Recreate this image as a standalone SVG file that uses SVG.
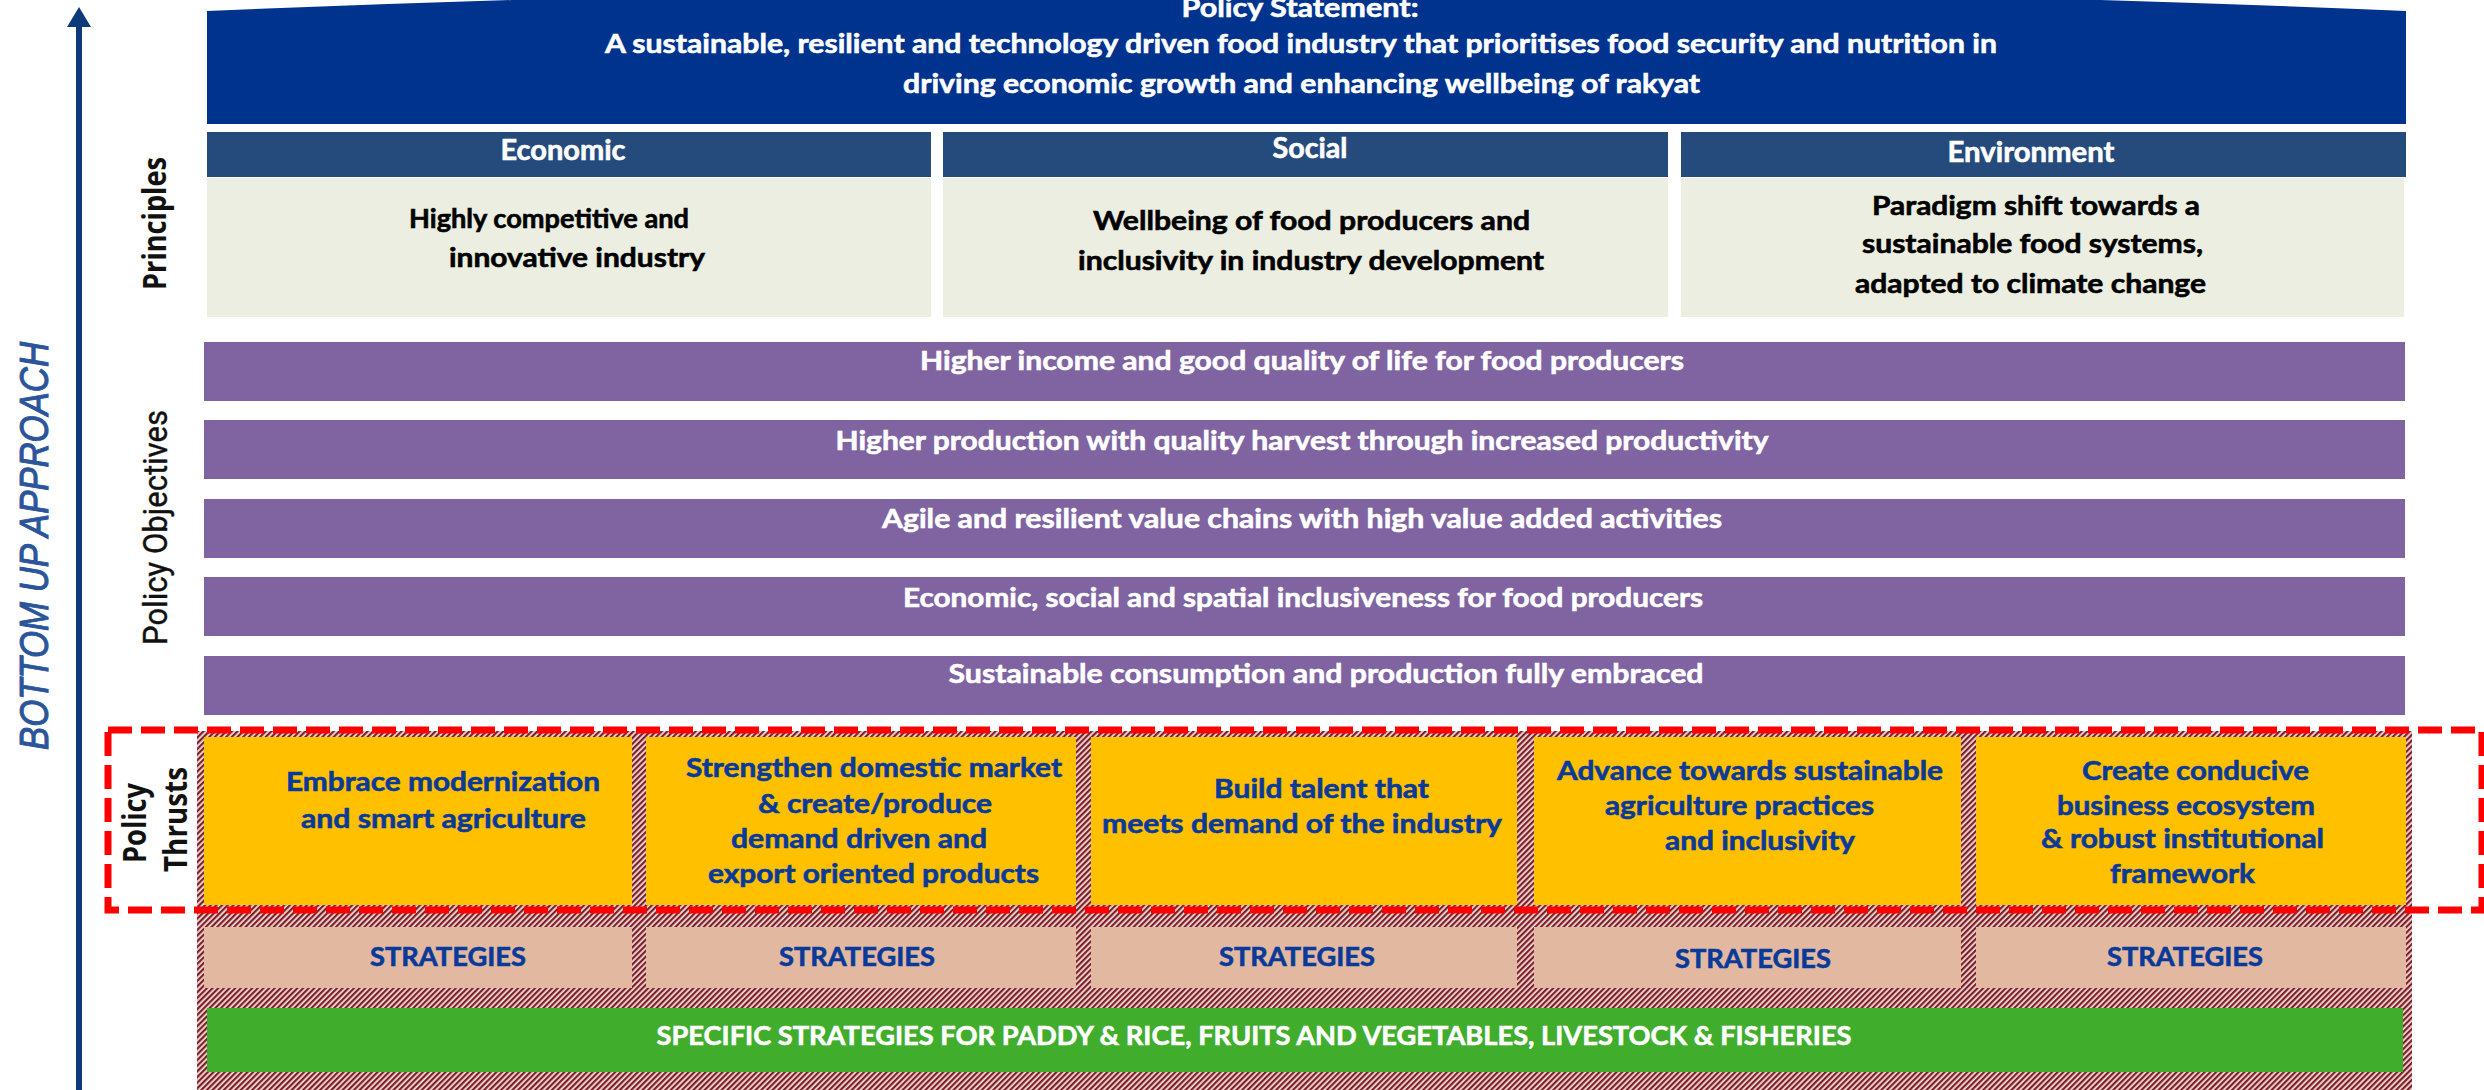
<svg xmlns="http://www.w3.org/2000/svg" width="2484" height="1090" viewBox="0 0 2484 1090">
<defs>
<style>
.t{font-family:Lato,"Liberation Sans",sans-serif;font-weight:700;text-anchor:middle;stroke-width:0.6px;paint-order:stroke}
.s27{font-size:27px}
.s28{font-size:28px}
.s26{font-size:26px}
.w{fill:#ffffff;stroke:#ffffff}
.k{fill:#000000;stroke:#000000}
.b{fill:#0A3A99;stroke:#0A3A99}
.side{font-family:"Open Sans","Liberation Sans",sans-serif;font-weight:700;font-size:32px;fill:#111;text-anchor:middle}
.side2{font-family:Roboto,"Liberation Sans",sans-serif;font-weight:400;font-size:33px;fill:#111;stroke:#111;stroke-width:0.4px;text-anchor:middle}
.hdr{fill:#254A7C}
.body{fill:#EBEEE0}
.obj{fill:#8064A2}
.thr{fill:#FFC000}
.str{fill:#E2B8A0}
</style>
<pattern id="hatch" width="4" height="4" patternUnits="userSpaceOnUse" patternTransform="rotate(45)">
<rect width="4" height="4" fill="#F1DCD6"/>
<rect width="2.2" height="4" fill="#7E1F2A"/>
</pattern>
</defs>
<rect width="2484" height="1090" fill="#ffffff"/>

<g id="connectors">
<line x1="79" y1="24" x2="79" y2="1090" stroke="#0D3B7A" stroke-width="6"/>
<polygon points="79,7 67,27 91,27" fill="#0D3B7A"/>
</g>

<g id="label-bottom-up">
<text transform="translate(48,546) rotate(-90)" font-family="'Liberation Sans',Arial,sans-serif" font-style="italic" font-size="41" fill="#2A559A" stroke="#2A559A" stroke-width="1" text-anchor="middle" textLength="408" lengthAdjust="spacingAndGlyphs">BOTTOM UP APPROACH</text>
</g>

<g id="policy-statement">
<path d="M207,11 Q1306,-35 2406,11 L2406,124 L207,124 Z" fill="#00338D"/>
<text class="t s27 w" x="1300" y="17" textLength="237" lengthAdjust="spacingAndGlyphs">Policy Statement:</text>
<text class="t s27 w" x="1301" y="53" textLength="1392" lengthAdjust="spacingAndGlyphs">A sustainable, resilient and technology driven food industry that prioritises food security and nutrition in</text>
<text class="t s27 w" x="1301.5" y="93" textLength="797" lengthAdjust="spacingAndGlyphs">driving economic growth and enhancing wellbeing of rakyat</text>
</g>

<g id="label-principles">
<text class="side" transform="translate(166,223.5) rotate(-90)" textLength="133" lengthAdjust="spacingAndGlyphs">Principles</text>
</g>

<g id="principle-economic">
<rect class="hdr" x="207" y="132" width="724" height="45"/>
<rect class="body" x="207" y="178" width="724" height="139"/>
<text class="t s28 w" x="563" y="160" textLength="125" lengthAdjust="spacingAndGlyphs">Economic</text>
<text class="t s27 k" x="549" y="228" textLength="280" lengthAdjust="spacingAndGlyphs">Highly competitive and</text>
<text class="t s27 k" x="577" y="267" textLength="256" lengthAdjust="spacingAndGlyphs">innovative industry</text>
</g>

<g id="principle-social">
<rect class="hdr" x="943" y="132" width="725" height="45"/>
<rect class="body" x="943" y="178" width="725" height="139"/>
<text class="t s28 w" x="1310" y="158" textLength="75" lengthAdjust="spacingAndGlyphs">Social</text>
<text class="t s27 k" x="1311.5" y="230" textLength="437" lengthAdjust="spacingAndGlyphs">Wellbeing of food producers and</text>
<text class="t s27 k" x="1311" y="270" textLength="466" lengthAdjust="spacingAndGlyphs">inclusivity in industry development</text>
</g>

<g id="principle-environment">
<rect class="hdr" x="1681" y="132" width="725" height="45"/>
<rect class="body" x="1681" y="178" width="723" height="139"/>
<text class="t s28 w" x="2031" y="162" textLength="167" lengthAdjust="spacingAndGlyphs">Environment</text>
<text class="t s27 k" x="2036" y="215" textLength="328" lengthAdjust="spacingAndGlyphs">Paradigm shift towards a</text>
<text class="t s27 k" x="2032.5" y="253" textLength="341" lengthAdjust="spacingAndGlyphs">sustainable food systems,</text>
<text class="t s27 k" x="2030.5" y="293" textLength="351" lengthAdjust="spacingAndGlyphs">adapted to climate change</text>
</g>

<g id="label-objectives">
<text class="side2" transform="translate(167,527.5) rotate(-90)" textLength="235" lengthAdjust="spacingAndGlyphs">Policy Objectives</text>
</g>

<g id="objective-1">
<rect class="obj" x="204" y="342" width="2201" height="59"/>
<text class="t s27 w" x="1302" y="370" textLength="764" lengthAdjust="spacingAndGlyphs">Higher income and good quality of life for food producers</text>
</g>
<g id="objective-2">
<rect class="obj" x="204" y="420" width="2201" height="59"/>
<text class="t s27 w" x="1302" y="450" textLength="933" lengthAdjust="spacingAndGlyphs">Higher production with quality harvest through increased productivity</text>
</g>
<g id="objective-3">
<rect class="obj" x="204" y="499" width="2201" height="59"/>
<text class="t s27 w" x="1302" y="528" textLength="840" lengthAdjust="spacingAndGlyphs">Agile and resilient value chains with high value added activities</text>
</g>
<g id="objective-4">
<rect class="obj" x="204" y="577" width="2201" height="59"/>
<text class="t s27 w" x="1303" y="607" textLength="800" lengthAdjust="spacingAndGlyphs">Economic, social and spatial inclusiveness for food producers</text>
</g>
<g id="objective-5">
<rect class="obj" x="204" y="656" width="2201" height="59"/>
<text class="t s27 w" x="1326" y="683" textLength="755" lengthAdjust="spacingAndGlyphs">Sustainable consumption and production fully embraced</text>
</g>

<g id="hatch-bg">
<rect x="197" y="731" width="2215" height="359" fill="url(#hatch)"/>
</g>

<g id="label-thrusts">
<text class="side" transform="translate(146,823) rotate(-90)" textLength="80" lengthAdjust="spacingAndGlyphs">Policy</text>
<text class="side" transform="translate(187,819.5) rotate(-90)" textLength="105" lengthAdjust="spacingAndGlyphs">Thrusts</text>
</g>

<g id="thrust-1">
<rect class="thr" x="204" y="737" width="428" height="168"/>
<text class="t s27 b" x="443" y="791" textLength="314" lengthAdjust="spacingAndGlyphs">Embrace modernization</text>
<text class="t s27 b" x="443.5" y="828" textLength="285" lengthAdjust="spacingAndGlyphs">and smart agriculture</text>
</g>
<g id="thrust-2">
<rect class="thr" x="646" y="737" width="430" height="168"/>
<text class="t s27 b" x="874" y="777" textLength="376" lengthAdjust="spacingAndGlyphs">Strengthen domestic market</text>
<text class="t s27 b" x="875" y="813" textLength="234" lengthAdjust="spacingAndGlyphs">&amp; create/produce</text>
<text class="t s27 b" x="859" y="848" textLength="256" lengthAdjust="spacingAndGlyphs">demand driven and</text>
<text class="t s27 b" x="873.5" y="883" textLength="331" lengthAdjust="spacingAndGlyphs">export oriented products</text>
</g>
<g id="thrust-3">
<rect class="thr" x="1091" y="737" width="426" height="168"/>
<text class="t s27 b" x="1321.5" y="798" textLength="215" lengthAdjust="spacingAndGlyphs">Build talent that</text>
<text class="t s27 b" x="1302" y="833" textLength="400" lengthAdjust="spacingAndGlyphs">meets demand of the industry</text>
</g>
<g id="thrust-4">
<rect class="thr" x="1534" y="737" width="427" height="168"/>
<text class="t s27 b" x="1750" y="780" textLength="386" lengthAdjust="spacingAndGlyphs">Advance towards sustainable</text>
<text class="t s27 b" x="1739.5" y="815" textLength="269" lengthAdjust="spacingAndGlyphs">agriculture practices</text>
<text class="t s27 b" x="1760" y="850" textLength="190" lengthAdjust="spacingAndGlyphs">and inclusivity</text>
</g>
<g id="thrust-5">
<rect class="thr" x="1976" y="737" width="430" height="168"/>
<text class="t s27 b" x="2195.5" y="780" textLength="227" lengthAdjust="spacingAndGlyphs">Create conducive</text>
<text class="t s27 b" x="2186" y="815" textLength="258" lengthAdjust="spacingAndGlyphs">business ecosystem</text>
<text class="t s27 b" x="2182.5" y="848" textLength="283" lengthAdjust="spacingAndGlyphs">&amp; robust institutional</text>
<text class="t s27 b" x="2182.5" y="883" textLength="145" lengthAdjust="spacingAndGlyphs">framework</text>
</g>

<g id="strategies-1">
<rect class="str" x="204" y="927" width="428" height="61"/>
<text class="t s27 b" x="448" y="966" textLength="156" lengthAdjust="spacingAndGlyphs">STRATEGIES</text>
</g>
<g id="strategies-2">
<rect class="str" x="646" y="927" width="430" height="61"/>
<text class="t s27 b" x="857" y="966" textLength="156" lengthAdjust="spacingAndGlyphs">STRATEGIES</text>
</g>
<g id="strategies-3">
<rect class="str" x="1091" y="927" width="426" height="61"/>
<text class="t s27 b" x="1297" y="966" textLength="156" lengthAdjust="spacingAndGlyphs">STRATEGIES</text>
</g>
<g id="strategies-4">
<rect class="str" x="1534" y="927" width="427" height="61"/>
<text class="t s27 b" x="1753" y="968" textLength="156" lengthAdjust="spacingAndGlyphs">STRATEGIES</text>
</g>
<g id="strategies-5">
<rect class="str" x="1976" y="927" width="430" height="61"/>
<text class="t s27 b" x="2185" y="966" textLength="156" lengthAdjust="spacingAndGlyphs">STRATEGIES</text>
</g>

<g id="specific-strategies">
<rect x="207" y="1008" width="2196" height="64" fill="#40AD2C"/>
<text class="t s26 w" x="1254" y="1045" textLength="1195" lengthAdjust="spacingAndGlyphs">SPECIFIC STRATEGIES FOR PADDY &amp; RICE, FRUITS AND VEGETABLES, LIVESTOCK &amp; FISHERIES</text>
</g>

<g id="thrust-highlight">
<rect x="108" y="730" width="2374" height="180" fill="none" stroke="#FF0000" stroke-width="7" stroke-dasharray="24 9"/>
</g>
</svg>
